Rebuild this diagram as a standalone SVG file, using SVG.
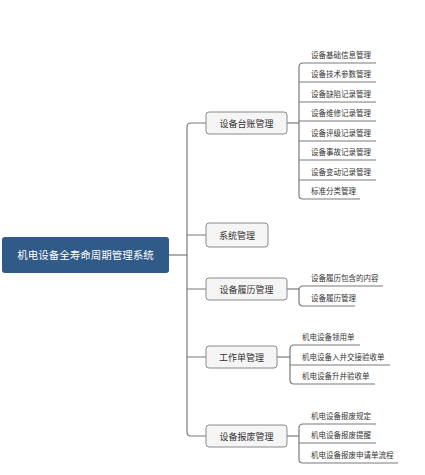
<svg xmlns="http://www.w3.org/2000/svg" width="425" height="475" viewBox="0 0 425 475">
<style>
.c{fill:none;stroke:#7a7a7a;stroke-width:1.2}
.b{fill:#f5f5f5;stroke:#8a8a8a;stroke-width:1}
.t{font-family:"Noto Sans CJK SC","Liberation Sans",sans-serif;fill:#333}
.bt{font-size:9px;text-anchor:middle}
.lt{font-size:7.5px}
</style>
<rect width="425" height="475" fill="#ffffff"/>
<g id="connectors">
<path class="c" d="M169 255H187"/>
<path class="c" d="M206 123H191Q187 123 187 127V432Q187 436 191 436H206"/>
<path class="c" d="M187 235H206M187 289H206M187 357H206"/>
<path class="c" d="M287 123H299"/>
<path class="c" d="M376 63H303Q299 63 299 67V195Q299 199 303 199H360"/>
<path class="c" d="M299 82H376M299 102H376M299 121H376M299 141H376M299 160H376M299 180H376"/>
<path class="c" d="M287 289H299"/>
<path class="c" d="M383 286H303Q299 286 299 290V302Q299 306 303 306H355"/>
<path class="c" d="M277 357H290"/>
<path class="c" d="M360 345H294Q290 345 290 349V380Q290 384 294 384H375"/>
<path class="c" d="M290 365H390"/>
<path class="c" d="M287 436H299"/>
<path class="c" d="M376 424H303Q299 424 299 428V459Q299 463 303 463H398"/>
<path class="c" d="M299 443H376"/>
</g>
<g id="root">
<rect x="2" y="237" width="167" height="36" rx="3" fill="#305a87"/>
<text class="t" x="85.5" y="259" font-size="10.5" text-anchor="middle" fill="#ffffff" style="fill:#fff">机电设备全寿命周期管理系统</text>
</g>
<g id="n1">
<rect class="b" x="206" y="112" width="81" height="22" rx="3"/>
<text class="t bt" x="246.5" y="126.5">设备台账管理</text>
</g>
<g id="n2">
<rect class="b" x="206" y="223" width="62" height="24" rx="3"/>
<text class="t bt" x="237" y="238.5">系统管理</text>
</g>
<g id="n3">
<rect class="b" x="206" y="278" width="81" height="22" rx="3"/>
<text class="t bt" x="246.5" y="292.5">设备履历管理</text>
</g>
<g id="n4">
<rect class="b" x="206" y="346" width="71" height="22" rx="3"/>
<text class="t bt" x="241.5" y="360.5">工作单管理</text>
</g>
<g id="n5">
<rect class="b" x="206" y="425" width="81" height="22" rx="3"/>
<text class="t bt" x="246.5" y="439.5">设备报废管理</text>
</g>
<g id="leaves1">
<text class="t lt" x="311" y="57.5">设备基础信息管理</text>
<text class="t lt" x="311" y="77">设备技术参数管理</text>
<text class="t lt" x="311" y="96.5">设备缺陷记录管理</text>
<text class="t lt" x="311" y="116">设备维修记录管理</text>
<text class="t lt" x="311" y="135.5">设备评级记录管理</text>
<text class="t lt" x="311" y="155">设备事故记录管理</text>
<text class="t lt" x="311" y="174.5">设备变动记录管理</text>
<text class="t lt" x="311" y="194">标准分类管理</text>
</g>
<g id="leaves3">
<text class="t lt" x="311" y="280.5">设备履历包含的内容</text>
<text class="t lt" x="311" y="300.5">设备履历管理</text>
</g>
<g id="leaves4">
<text class="t lt" x="302" y="339.5">机电设备领用单</text>
<text class="t lt" x="302" y="359.5">机电设备入井交接验收单</text>
<text class="t lt" x="302" y="378.5">机电设备升井验收单</text>
</g>
<g id="leaves5">
<text class="t lt" x="311" y="418.5">机电设备报废规定</text>
<text class="t lt" x="311" y="437.5">机电设备报废提醒</text>
<text class="t lt" x="311" y="457.5">机电设备报废申请单流程</text>
</g>
</svg>
